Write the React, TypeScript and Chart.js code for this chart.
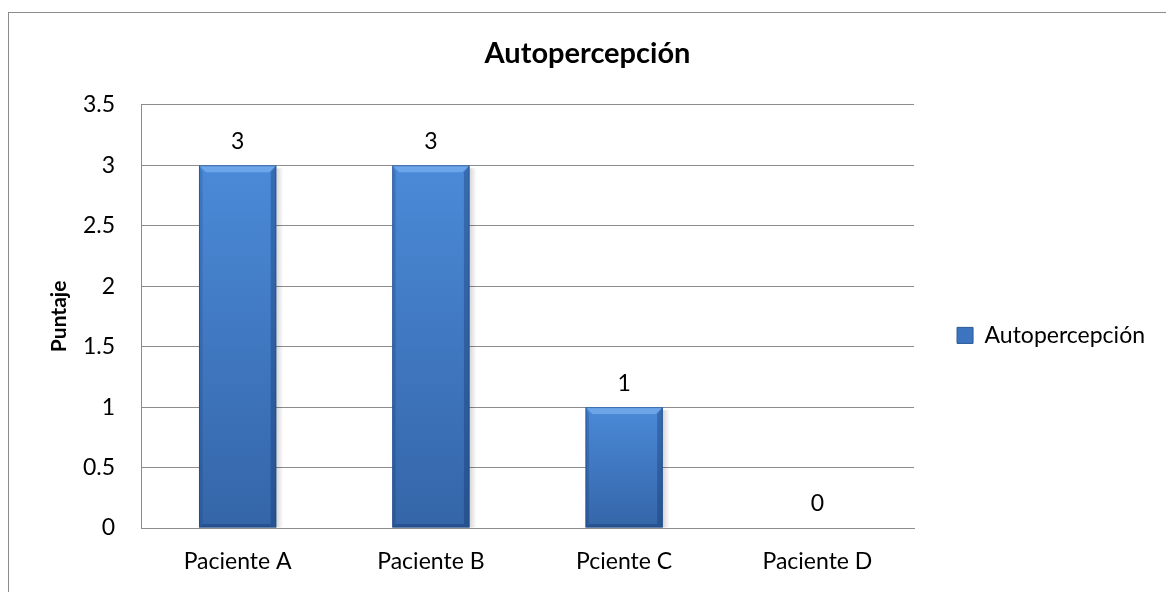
import { useEffect, useRef } from "react";
import { Chart, registerables } from "chart.js";

Chart.register(...registerables);

// Chart content
const chartTitle = "Autopercepción";
const seriesName = "Autopercepción";
const yAxisTitle = "Puntaje";
const categories = ["Paciente A", "Paciente B", "Pciente C", "Paciente D"];
const puntajes = [3, 3, 1, 0];
const yMin = 0;
const yMax = 3.5;
const yStep = 0.5;

const FONT = "Lato, 'Open Sans', sans-serif";
const GRID = "#8c8c8c";
const TEXT_SIZE = 23;

// Vertical shading of each bar, from its own top down to the baseline.
function barFill(ctx: any) {
  const chart = ctx.chart;
  const y = chart.scales?.y;
  if (!y || !chart.chartArea) return "#3f77c4";
  const top = y.getPixelForValue(ctx.raw ?? 0);
  const base = y.getPixelForValue(0);
  const g = chart.ctx.createLinearGradient(0, top, 0, Math.max(base, top + 1));
  g.addColorStop(0, "#4b8ad8");
  g.addColorStop(1, "#3465a8");
  return g;
}

// Bevel edges and soft right-hand shadow on the bars.
const bevelPlugin = {
  id: "bevel",
  beforeDatasetsDraw(chart: any) {
    const ctx = chart.ctx;
    chart.getDatasetMeta(0).data.forEach((bar: any) => {
      const { x, y, base, width } = bar.getProps(["x", "y", "base", "width"], true);
      if (base - y < 1) return;
      const right = x + width / 2;
      const g = ctx.createLinearGradient(right, 0, right + 7, 0);
      g.addColorStop(0, "rgba(0,0,0,0.16)");
      g.addColorStop(1, "rgba(0,0,0,0)");
      ctx.save();
      ctx.fillStyle = g;
      ctx.fillRect(right, y + 3, 7, base - y - 3);
      ctx.restore();
    });
  },
  afterDatasetsDraw(chart: any) {
    const ctx = chart.ctx;
    chart.getDatasetMeta(0).data.forEach((bar: any) => {
      const { x, y, base, width } = bar.getProps(["x", "y", "base", "width"], true);
      const h = base - y;
      if (h < 1) return;
      const l = x - width / 2;
      const r = x + width / 2;
      const b = Math.min(7, h / 2);
      ctx.save();
      // top bevel
      ctx.beginPath();
      ctx.moveTo(l, y);
      ctx.lineTo(r, y);
      ctx.lineTo(r - b, y + b);
      ctx.lineTo(l + b, y + b);
      ctx.closePath();
      ctx.fillStyle = "rgba(150,200,255,0.45)";
      ctx.fill();
      // left bevel
      ctx.beginPath();
      ctx.moveTo(l, y);
      ctx.lineTo(l + b * 0.5, y + b);
      ctx.lineTo(l + b * 0.5, base - b * 0.5);
      ctx.lineTo(l, base);
      ctx.closePath();
      ctx.fillStyle = "rgba(10,40,90,0.18)";
      ctx.fill();
      // right bevel
      ctx.beginPath();
      ctx.moveTo(r, y);
      ctx.lineTo(r - b * 0.8, y + b);
      ctx.lineTo(r - b * 0.8, base - b * 0.5);
      ctx.lineTo(r, base);
      ctx.closePath();
      ctx.fillStyle = "rgba(10,40,90,0.3)";
      ctx.fill();
      // bottom bevel
      ctx.beginPath();
      ctx.moveTo(l, base);
      ctx.lineTo(r, base);
      ctx.lineTo(r - b * 0.8, base - b * 0.5);
      ctx.lineTo(l + b * 0.5, base - b * 0.5);
      ctx.closePath();
      ctx.fillStyle = "rgba(10,40,90,0.3)";
      ctx.fill();
      ctx.strokeStyle = "rgba(30,70,130,0.6)";
      ctx.lineWidth = 1;
      ctx.strokeRect(l + 0.5, y + 0.5, width - 1, h - 1);
      ctx.restore();
    });
  },
};

// Value labels above each bar.
const valueLabelPlugin = {
  id: "valueLabels",
  afterDatasetsDraw(chart: any) {
    const ctx = chart.ctx;
    const ds = chart.data.datasets[0];
    chart.getDatasetMeta(0).data.forEach((bar: any, i: number) => {
      const { x, y } = bar.getProps(["x", "y"], true);
      ctx.save();
      ctx.font = `${TEXT_SIZE}px ${FONT}`;
      ctx.fillStyle = "#000";
      ctx.textAlign = "center";
      ctx.textBaseline = "middle";
      ctx.fillText(String(ds.data[i]), x, y - 24);
      ctx.restore();
    });
  },
};

export default function App() {
  const canvasRef = useRef<HTMLCanvasElement | null>(null);

  useEffect(() => {
    document.body.style.overflow = "hidden";
    const canvas = canvasRef.current;
    if (!canvas) return;
    const chart = new Chart(canvas, {
      type: "bar",
      data: {
        labels: categories,
        datasets: [
          {
            label: seriesName,
            data: puntajes,
            backgroundColor: barFill,
            borderWidth: 0,
            barPercentage: 0.8,
            categoryPercentage: 0.5,
          },
        ],
      },
      options: {
        responsive: false,
        animation: false,
        events: [],
        layout: { padding: { left: 20, right: 11, top: 0, bottom: 0 } },
        scales: {
          x: {
            grid: { display: false, drawTicks: false },
            border: { display: true, color: GRID, width: 1 },
            ticks: { color: "#000", font: { family: FONT, size: TEXT_SIZE }, padding: 20 },
            afterFit: (s: any) => {
              s.height = 592 - 528;
            },
          },
          y: {
            min: yMin,
            max: yMax,
            grid: { color: GRID, lineWidth: 1, drawTicks: false },
            border: { display: true, color: GRID, width: 1 },
            ticks: {
              stepSize: yStep,
              color: "#000",
              font: { family: FONT, size: TEXT_SIZE },
              padding: 26,
              callback: (v: any) => String(v),
            },
            title: {
              display: true,
              text: yAxisTitle,
              color: "#000",
              font: { family: FONT, size: 21, weight: "bold" },
              padding: { top: 27, bottom: 0 },
            },
            afterFit: (s: any) => {
              s.width = 141 - 20;
            },
          },
        },
        plugins: {
          title: {
            display: true,
            text: chartTitle,
            color: "#000",
            font: { family: FONT, size: 29, weight: "bold" },
            padding: { top: 36, bottom: 34 },
          },
          legend: {
            position: "right",
            fullSize: false,
            title: {
              display: true,
              text: " ",
              font: { family: FONT, size: 20 },
              padding: 7,
            },
            labels: {
              boxWidth: 16,
              boxHeight: 16,
              padding: 43,
              color: "#000",
              font: { family: FONT, size: TEXT_SIZE },
              generateLabels: () => [
                {
                  text: seriesName,
                  fillStyle: "#3d74bf",
                  strokeStyle: "#2a5794",
                  fontColor: "#000",
                  lineWidth: 1,
                  hidden: false,
                  datasetIndex: 0,
                },
              ],
            },
          },
          tooltip: { enabled: false },
        },
      },
      plugins: [bevelPlugin, valueLabelPlugin],
    });
    return () => chart.destroy();
  }, []);

  return (
    <div style={{ position: "absolute", left: 0, top: 0, width: 1166, height: 592, overflow: "hidden", background: "#fff" }}>
      <div
        style={{
          position: "absolute",
          left: 8,
          top: 12,
          width: 1158,
          height: 580,
          borderTop: "1px solid #8c8c8c",
          borderLeft: "1px solid #8c8c8c",
          boxSizing: "border-box",
        }}
      />
      <canvas ref={canvasRef} width={1166} height={592} style={{ position: "absolute", left: 0, top: 0 }} />
    </div>
  );
}
